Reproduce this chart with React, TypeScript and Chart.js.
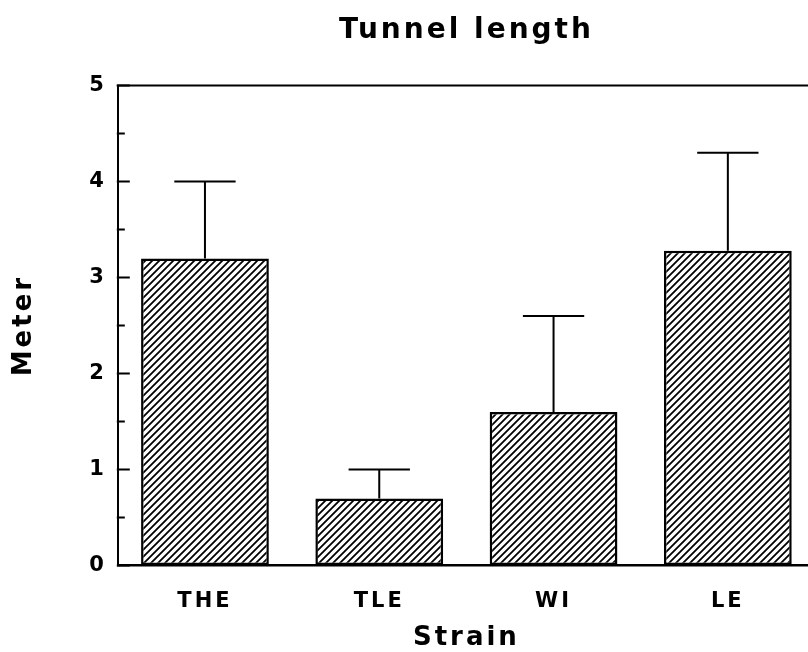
import React, { useEffect, useRef } from 'react';
import { Chart, registerables } from 'chart.js';

Chart.register(...registerables);

const categories = ['THE', 'TLE', 'WI', 'LE'];
const meanValues = [3.2, 0.7, 1.6, 3.28];
const errorValues = [0.8, 0.3, 1.0, 1.02];
const yMin = 0;
const yMax = 5;
const yStep = 1;

const FONT = 'DejaVu Sans';

function makeHatch(): CanvasPattern | string {
  const p = 7;
  const c = document.createElement('canvas');
  c.width = p;
  c.height = p;
  const g = c.getContext('2d');
  if (!g) return '#888';
  g.fillStyle = '#fff';
  g.fillRect(0, 0, p, p);
  g.strokeStyle = '#000';
  g.lineWidth = 1.8;
  g.beginPath();
  g.moveTo(-1, p + 1);
  g.lineTo(p + 1, -1);
  g.moveTo(-1, 1);
  g.lineTo(1, -1);
  g.moveTo(p - 1, p + 1);
  g.lineTo(p + 1, p - 1);
  g.stroke();
  return g.createPattern(c, 'repeat') || '#888';
}

const spacingPlugin = {
  id: 'letterSpacing',
  beforeDraw(chart: any) {
    (chart.ctx as any).letterSpacing = '3px';
  },
  afterDraw(chart: any) {
    (chart.ctx as any).letterSpacing = '0px';
  },
};

const errorBarPlugin = {
  id: 'errorBars',
  afterDatasetsDraw(chart: any) {
    const meta = chart.getDatasetMeta(0);
    const y = chart.scales.y;
    const ctx = chart.ctx as CanvasRenderingContext2D;
    ctx.save();
    ctx.strokeStyle = '#000';
    ctx.lineWidth = 2;
    meta.data.forEach((bar: any, i: number) => {
      const top = y.getPixelForValue(meanValues[i] + errorValues[i]);
      const half = bar.width * 0.24;
      ctx.beginPath();
      ctx.moveTo(bar.x, bar.y);
      ctx.lineTo(bar.x, top);
      ctx.moveTo(bar.x - half, top);
      ctx.lineTo(bar.x + half, top);
      ctx.stroke();
    });
    ctx.restore();
  },
};

const framePlugin = {
  id: 'frame',
  afterDraw(chart: any) {
    const ctx = chart.ctx as CanvasRenderingContext2D;
    const { left, right, top } = chart.chartArea;
    const y = chart.scales.y;
    ctx.save();
    ctx.strokeStyle = '#000';
    ctx.lineWidth = 2;
    ctx.beginPath();
    ctx.moveTo(left - 1, top);
    ctx.lineTo(right, top);
    ctx.stroke();
    ctx.beginPath();
    y.ticks.forEach((t: any) => {
      const py = y.getPixelForValue(t.value);
      ctx.moveTo(left - 1, py);
      ctx.lineTo(left + 12, py);
      if (t.value < yMax) {
        const pm = y.getPixelForValue(t.value + yStep / 2);
        ctx.moveTo(left - 1, pm);
        ctx.lineTo(left + 7, pm);
      }
    });
    ctx.stroke();
    ctx.restore();
  },
};

export default function App() {
  const ref = useRef<HTMLCanvasElement | null>(null);

  useEffect(() => {
    if (!ref.current) return;
    const hatch = makeHatch();
    const tickFont = { family: FONT, size: 21, weight: 'bold' as const };
    const titleFont = { family: FONT, size: 26, weight: 'bold' as const };
    const chart = new Chart(ref.current, {
      type: 'bar',
      data: {
        labels: categories,
        datasets: [
          {
            data: meanValues,
            backgroundColor: hatch as any,
            borderColor: '#000',
            borderWidth: 2.5,
            borderSkipped: false,
            categoryPercentage: 1,
            barPercentage: 0.733,
          },
        ],
      },
      plugins: [spacingPlugin, errorBarPlugin, framePlugin],
      options: {
        animation: false,
        responsive: false,
        layout: { padding: { left: 0, right: 5, top: 0, bottom: -2 } },
        plugins: {
          legend: { display: false },
          tooltip: { enabled: false },
          title: {
            display: true,
            text: 'Tunnel length',
            fullSize: false,
            color: '#000',
            font: { family: FONT, size: 28, weight: 'bold' },
            padding: { top: 14, bottom: 38 },
          },
        },
        scales: {
          x: {
            grid: { display: true, drawOnChartArea: false, drawTicks: false },
            border: { display: true, color: '#000', width: 2.5 },
            ticks: { color: '#000', font: tickFont, padding: 23 },
            title: {
              display: true,
              text: 'Strain',
              color: '#000',
              font: titleFont,
              padding: { top: -14, bottom: 0 },
            },
          },
          y: {
            min: yMin,
            max: yMax,
            grid: { display: true, drawOnChartArea: false, drawTicks: false },
            border: { display: true, color: '#000', width: 2 },
            ticks: { stepSize: yStep, color: '#000', font: tickFont, padding: 11 },
            title: {
              display: true,
              text: 'Meter',
              color: '#000',
              font: titleFont,
              padding: { top: 9, bottom: 41 },
            },
          },
        },
      },
    });
    return () => chart.destroy();
  }, []);

  return (
    <div
      style={{
        position: 'absolute',
        left: 0,
        top: 0,
        width: 808,
        height: 652,
        overflow: 'hidden',
        background: '#fff',
      }}
    >
      <canvas ref={ref} width={820} height={652} style={{ display: 'block', width: 820, height: 652 }} />
    </div>
  );
}
